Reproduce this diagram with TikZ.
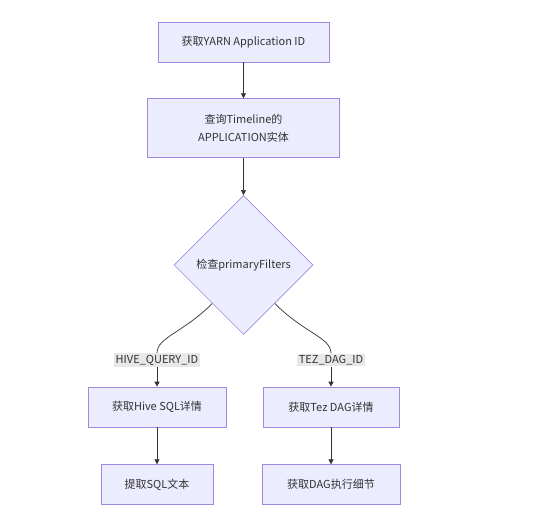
\documentclass[tikz,border=0pt]{standalone}
\usepackage{fontspec}
\setmainfont{Noto Sans CJK SC}
\usetikzlibrary{arrows.meta, positioning, shapes.geometric}
\definecolor{nodefill}{HTML}{ECECFF}
\definecolor{nodeline}{HTML}{A08AE0}
\definecolor{linkcolor}{HTML}{333333}
\definecolor{lblfill}{HTML}{E8E8E8}

\begin{document}
\begin{tikzpicture}[
    x=1pt, y=-1pt,
    >={Triangle[length=5pt, width=5pt]},
    proc/.style={draw=nodeline, fill=nodefill, line width=0.7pt, minimum height=40pt, inner sep=2pt, font=\fontsize{11}{18}\selectfont, text=linkcolor, align=center},
    decision/.style={draw=nodeline, fill=nodefill, line width=0.7pt, diamond, aspect=1, minimum size=139pt, inner sep=0pt, font=\fontsize{11}{18}\selectfont, text=linkcolor},
    edgelbl/.style={fill=lblfill, inner sep=1.5pt, font=\fontsize{11}{14}\selectfont, text=linkcolor},
    flow/.style={draw=linkcolor, line width=0.7pt},
]
    \fill[white] (0,0) rectangle (541,516);
    \useasboundingbox (0,0) rectangle (541,516);

    \node[proc, minimum width=171pt] (yarn) at (243.5,42) {获取YARN Application ID};
    \node[proc, minimum width=192pt, minimum height=59pt, below=36pt of yarn] (tl) {查询Timeline的\\APPLICATION实体};
    \node[decision, below=37pt of tl] (chk) {检查primaryFilters};

    \node[edgelbl] (lblhive) at (157,360) {HIVE\_QUERY\_ID};
    \node[edgelbl] (lbltez) at (331,360) {TEZ\_DAG\_ID};

    \node[proc, minimum width=138pt] (hive) at (157,407) {获取Hive SQL详情};
    \node[proc, minimum width=136pt] (tez) at (331,407) {获取Tez DAG详情};
    \node[proc, minimum width=112pt, below=37pt of hive] (sqltext) {提取SQL文本};
    \node[proc, minimum width=138pt, below=37pt of tez] (dagexec) {获取DAG执行细节};

    \draw[flow, ->] (yarn) -- (tl);
    \draw[flow, ->] (tl) -- (chk);
    \draw[flow] (chk.231) .. controls +(-30,30) and +(0,-16) .. (lblhive.north);
    \draw[flow, ->] (lblhive) -- (hive);
    \draw[flow] (chk.309) .. controls +(30,30) and +(0,-16) .. (lbltez.north);
    \draw[flow, ->] (lbltez) -- (tez);
    \draw[flow, ->] (hive) -- (sqltext);
    \draw[flow, ->] (tez) -- (dagexec);
\end{tikzpicture}
\end{document}
